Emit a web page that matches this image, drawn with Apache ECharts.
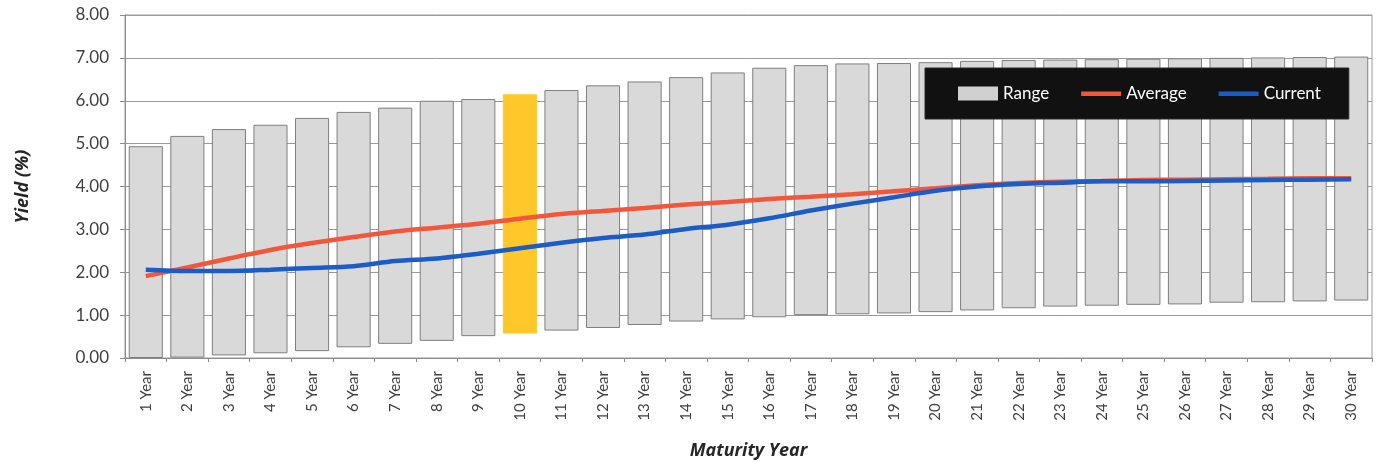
<!DOCTYPE html>
<html>
<head>
<meta charset="utf-8">
<title>Yield Curve Range</title>
<script src="https://cdn.jsdelivr.net/npm/echarts@6/dist/echarts.min.js"></script>
<style>
  html, body { margin: 0; padding: 0; background: #fff; }
  #chart { width: 1377px; height: 462px; }
</style>
</head>
<body>
<div id="chart"></div>
<script>
// Maturity buckets
const maturities = ['1 Year','2 Year','3 Year','4 Year','5 Year','6 Year','7 Year','8 Year','9 Year','10 Year',
  '11 Year','12 Year','13 Year','14 Year','15 Year','16 Year','17 Year','18 Year','19 Year','20 Year',
  '21 Year','22 Year','23 Year','24 Year','25 Year','26 Year','27 Year','28 Year','29 Year','30 Year'];

// Historical low / high yield per maturity (%)
const rangeLow = [0.00,0.01,0.06,0.11,0.16,0.25,0.33,0.40,0.51,0.57,0.64,0.70,0.77,0.85,0.90,
  0.95,1.00,1.02,1.04,1.07,1.11,1.16,1.20,1.22,1.24,1.25,1.29,1.30,1.32,1.34];
const rangeHigh = [4.94,5.18,5.34,5.44,5.60,5.74,5.84,6.00,6.04,6.15,6.25,6.36,6.45,6.55,6.66,
  6.77,6.83,6.87,6.88,6.90,6.93,6.95,6.96,6.97,6.98,6.99,7.00,7.01,7.02,7.03];

// Average and current yield curves (%)
const averageYield = [1.91,2.11,2.32,2.52,2.68,2.82,2.95,3.04,3.13,3.25,3.36,3.43,3.50,3.58,3.64,
  3.71,3.76,3.82,3.89,3.96,4.03,4.08,4.11,4.13,4.15,4.16,4.17,4.18,4.19,4.19];
const currentYield = [2.06,2.03,2.03,2.06,2.10,2.14,2.26,2.32,2.43,2.56,2.69,2.80,2.88,3.01,3.11,
  3.26,3.44,3.60,3.75,3.90,4.00,4.06,4.09,4.12,4.12,4.13,4.14,4.15,4.16,4.17];

// Maturity shown in highlight colour
const highlightMaturity = '10 Year';

const FONT = 'Lato, "Open Sans", sans-serif';
const TITLE_FONT = '"Open Sans", Lato, sans-serif';
const GRAY_BAR = '#d9d9d9';
const GRAY_EDGE = '#7f7f7f';
const YELLOW = '#ffc82a';
const RED = '#f2573b';
const BLUE = '#1b5cc6';
// Thin stroke inside a 40x14 box, for the line-series legend keys
const LINE_KEY = 'path://M0,0 M0,5 L40,5 L40,9.5 L0,9.5 Z M40,14';

const rangeSpan = rangeHigh.map((h, i) => {
  const v = +(h - rangeLow[i]).toFixed(2);
  if (maturities[i] === highlightMaturity) {
    return { value: v, itemStyle: { color: YELLOW, borderColor: YELLOW } };
  }
  return v;
});

const chart = echarts.init(document.getElementById('chart'), null, { renderer: 'canvas' });

chart.setOption({
  animation: false,
  backgroundColor: '#ffffff',
  textStyle: { fontFamily: FONT },
  grid: {
    left: 125, right: 5, top: 15, bottom: 104,
    outerBoundsMode: 'none',
    containLabel: false,
    show: true, borderColor: '#9a9a9a', borderWidth: 1
  },
  legend: {
    data: [
      { name: 'Range', icon: 'rect', itemStyle: { color: '#d0d0d0', borderWidth: 0 } },
      { name: 'Average', icon: LINE_KEY, itemStyle: { color: RED, borderWidth: 0 } },
      { name: 'Current', icon: LINE_KEY, itemStyle: { color: BLUE, borderWidth: 0 } }
    ],
    left: 925, top: 68,
    padding: [17, 28, 17, 33],
    itemGap: 32,
    itemWidth: 40, itemHeight: 14,
    backgroundColor: '#111111',
    borderColor: '#2a2a2a', borderWidth: 1,
    textStyle: { color: '#ffffff', fontSize: 17, fontFamily: FONT }
  },
  xAxis: {
    type: 'category',
    data: maturities,
    name: 'Maturity Year',
    nameLocation: 'middle',
    nameGap: 84,
    nameTextStyle: { fontSize: 18, fontWeight: 'bold', fontStyle: 'italic', color: '#262626', fontFamily: TITLE_FONT },
    axisLine: { lineStyle: { color: '#8c8c8c', width: 1 } },
    axisTick: { show: true, alignWithLabel: false, length: 4, lineStyle: { color: '#8c8c8c' } },
    axisLabel: { rotate: 90, fontSize: 15, color: '#404040', margin: 13, interval: 0, fontFamily: FONT },
    splitLine: { show: false }
  },
  yAxis: {
    type: 'value',
    min: 0, max: 8, interval: 1,
    name: 'Yield (%)',
    nameLocation: 'middle',
    nameGap: 93,
    nameRotate: 90,
    nameTextStyle: { fontSize: 18, fontWeight: 'bold', fontStyle: 'italic', color: '#262626', fontFamily: TITLE_FONT },
    axisLine: { show: true, lineStyle: { color: '#8c8c8c', width: 1 } },
    axisTick: { show: true, length: 5, lineStyle: { color: '#8c8c8c' } },
    axisLabel: { formatter: v => v.toFixed(2), fontSize: 17, color: '#404040', margin: 16, fontFamily: FONT },
    splitLine: { show: true, lineStyle: { color: '#9a9a9a', width: 1 } }
  },
  series: [
    {
      name: 'base',
      type: 'bar',
      stack: 'range',
      data: rangeLow,
      itemStyle: { color: 'transparent', borderColor: 'transparent' },
      barCategoryGap: '18%',
      silent: true
    },
    {
      name: 'Range',
      type: 'bar',
      stack: 'range',
      data: rangeSpan,
      barCategoryGap: '18%',
      itemStyle: { color: GRAY_BAR, borderColor: GRAY_EDGE, borderWidth: 1 }
    },
    {
      name: 'Average',
      type: 'line',
      data: averageYield,
      smooth: 0.3,
      symbol: 'none',
      z: 3,
      lineStyle: { color: RED, width: 4.5 },
      itemStyle: { color: RED }
    },
    {
      name: 'Current',
      type: 'line',
      data: currentYield,
      smooth: 0.3,
      symbol: 'none',
      z: 4,
      lineStyle: { color: BLUE, width: 4.5 },
      itemStyle: { color: BLUE }
    }
  ]
});
</script>
</body>
</html>
